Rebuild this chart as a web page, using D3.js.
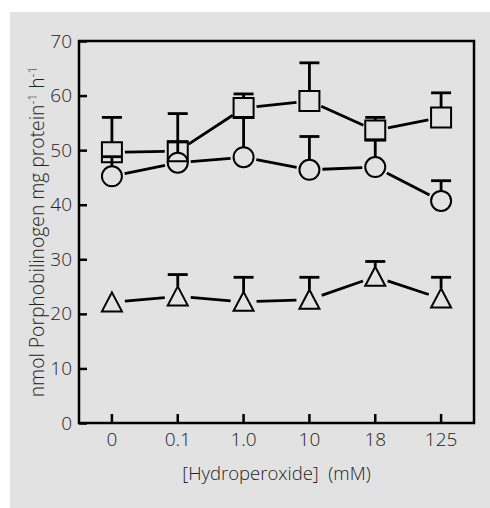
<!DOCTYPE html>
<html>
<head>
<meta charset="utf-8">
<script src="https://cdn.jsdelivr.net/npm/d3@7"></script>
<style>
  body { margin: 0; background: #fff; }
  text { font-family: "Open Sans", "Liberation Sans", Arial, sans-serif; font-weight: 300; fill: #222; }
</style>
</head>
<body>
<div id="chart"></div>
<script>
// values (error values = top of the error bar)
let categories = ['0', '0.1', '1.0', '10', '18', '125']
let squareMean = [49.6, 49.8, 57.7, 59.0, 53.6, 56.0]
let squareErr = [56.0, 56.7, 60.3, 66.0, 56.0, 60.5]
let circleMean = [45.2, 47.7, 48.7, 46.4, 46.9, 40.7]
let circleErr = [48.8, 51.5, 56.0, 52.5, 51.9, 44.4]
let triangleMean = [22.1, 23.2, 22.2, 22.6, 26.8, 22.8]
let triangleErr = [22.1, 27.2, 26.7, 26.7, 29.6, 26.7]
let yTicks = [0, 10, 20, 30, 40, 50, 60, 70]

let svgWidth = 490
let svgHeight = 508
let padding = { left: 79, right: 16, top: 41, bottom: 85 }
let plotW = svgWidth - padding.left - padding.right
let plotH = svgHeight - padding.top - padding.bottom

let svg = d3.select('#chart').append('svg')
    .attr('width', svgWidth)
    .attr('height', svgHeight)

svg.append('rect')
    .attr('x', 10).attr('y', 12)
    .attr('width', svgWidth - 10).attr('height', svgHeight - 12)
    .attr('fill', '#e2e2e2')

let x = d3.scaleBand()
    .domain(categories)
    .range([padding.left, padding.left + plotW])
let y = d3.scaleLinear()
    .domain([0, 70])
    .range([padding.top + plotH, padding.top])

let cx = d => x(d) + x.bandwidth() / 2

// axes
let axis_y = d3.axisLeft(y).tickValues(yTicks).tickSize(-8).tickSizeOuter(0).tickPadding(7)
let gy = svg.append('g')
    .attr('transform', `translate(${padding.left}, 0)`)
    .call(axis_y)
    .attr('font-family', null)
gy.select('.domain').remove()
gy.selectAll('line').attr('stroke', '#000').attr('stroke-width', 2.5)
gy.selectAll('text').attr('font-size', '19px').attr('fill', '#222')

let axis_x = d3.axisBottom(x).tickSize(-9).tickSizeOuter(0).tickPadding(10)
let gx = svg.append('g')
    .attr('transform', `translate(0, ${padding.top + plotH})`)
    .call(axis_x)
    .attr('font-family', null)
gx.select('.domain').remove()
gx.selectAll('line').attr('stroke', '#000').attr('stroke-width', 2.5)
gx.selectAll('text').attr('font-size', '19px').attr('fill', '#222')

svg.append('rect')
    .attr('x', padding.left).attr('y', padding.top)
    .attr('width', plotW).attr('height', plotH)
    .attr('fill', 'none')
    .attr('stroke', '#000')
    .attr('stroke-width', 2.5)

// axis titles
svg.append('text')
    .attr('x', padding.left + plotW / 2)
    .attr('y', 480)
    .attr('text-anchor', 'middle')
    .attr('font-size', '18.5px')
    .style('white-space', 'pre')
    .text('[Hydroperoxide]  (mM)')

let ylab = svg.append('text')
    .attr('transform', `translate(44, 232) rotate(-90)`)
    .attr('text-anchor', 'middle')
    .attr('font-size', '19.3px')
ylab.append('tspan').text('nmol Porphobilinogen mg protein')
ylab.append('tspan').text('-1').attr('font-size', '12px').attr('dy', '-7')
ylab.append('tspan').text(' h').attr('dy', '7')
ylab.append('tspan').text('-1').attr('font-size', '12px').attr('dy', '-7')

// series
let half = 10
let series = [
    { mean: squareMean, err: squareErr, shape: 'square' },
    { mean: circleMean, err: circleErr, shape: 'circle' },
    { mean: triangleMean, err: triangleErr, shape: 'triangle' }
]

series.forEach(s => {
    let pts = categories.map((c, i) => [cx(c), y(s.mean[i])])

    // connecting lines with a gap at each marker
    let segs = []
    for (let i = 0; i < pts.length - 1; i++) {
        let [x1, y1] = pts[i], [x2, y2] = pts[i + 1]
        let len = Math.hypot(x2 - x1, y2 - y1)
        let g = 13
        let ux = (x2 - x1) / len, uy = (y2 - y1) / len
        segs.push([x1 + ux * g, y1 + uy * g, x2 - ux * g, y2 - uy * g])
    }
    svg.append('g').selectAll('line')
        .data(segs).enter().append('line')
        .attr('x1', d => d[0]).attr('y1', d => d[1])
        .attr('x2', d => d[2]).attr('y2', d => d[3])
        .attr('stroke', '#000').attr('stroke-width', 2.8)

    // error bars (upper only)
    let eb = svg.append('g')
    categories.forEach((c, i) => {
        let top = y(s.err[i])
        let start = y(s.mean[i]) - half
        if (top >= start) return
        eb.append('line')
            .attr('x1', cx(c)).attr('x2', cx(c))
            .attr('y1', start).attr('y2', top)
            .attr('stroke', '#000').attr('stroke-width', 2.8)
        eb.append('line')
            .attr('x1', cx(c) - 10).attr('x2', cx(c) + 10)
            .attr('y1', top).attr('y2', top)
            .attr('stroke', '#000').attr('stroke-width', 2.8)
    })

    // markers
    let mk = svg.append('g').selectAll('path')
        .data(pts).enter().append('path')
        .attr('transform', d => `translate(${d[0]}, ${d[1]})`)
        .attr('fill', 'none')
        .attr('stroke', '#000')
        .attr('stroke-width', 2)
    if (s.shape === 'square') mk.attr('d', `M${-half},${-half}H${half}V${half}H${-half}Z`)
    if (s.shape === 'circle') mk.attr('d', d3.arc()({ innerRadius: 0, outerRadius: half, startAngle: 0, endAngle: 2 * Math.PI }))
    if (s.shape === 'triangle') mk.attr('d', `M0,${-half}L${half},${half - 1}H${-half}Z`)
})
</script>
</body>
</html>
